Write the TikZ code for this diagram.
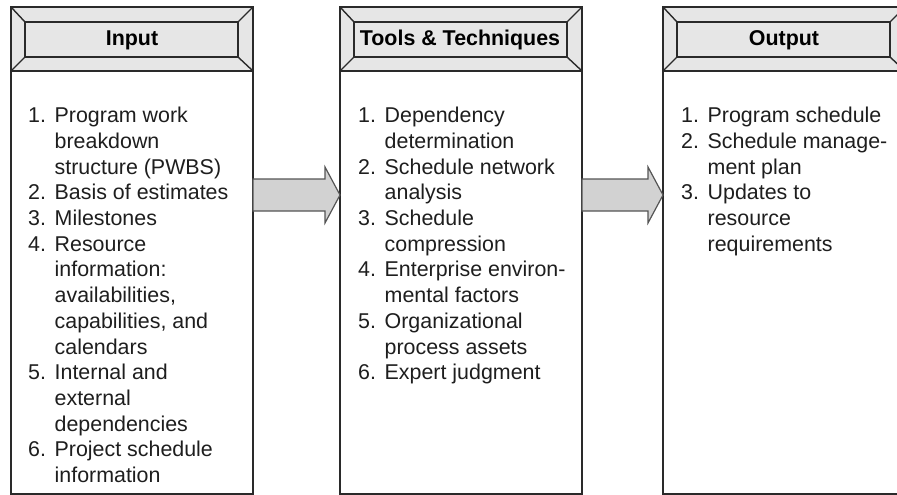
\documentclass[tikz,border=0pt]{standalone}
\usepackage{fontspec}
\setmainfont{Liberation Sans}
\usetikzlibrary{calc}
\definecolor{hdrfill}{HTML}{E6E6E6}
\definecolor{arrfill}{HTML}{D2D2D2}
\definecolor{lnclr}{HTML}{2A2A2A}
\definecolor{arrln}{HTML}{555555}
\definecolor{txtclr}{HTML}{1E1E1E}
\newcommand\itm[2]{\makebox[26.5pt][l]{#1}#2}
\newcommand\cnt[1]{\hspace*{26.5pt}#1}
\begin{document}
\begin{tikzpicture}[x=1pt,y=-1pt,
  colbox/.style={draw=lnclr, line width=2.2pt, fill=white, minimum width=242pt,
    minimum height=487pt, inner sep=0pt, outer sep=0pt},
  hdr/.style={draw=lnclr, line width=1.4pt, fill=hdrfill, line join=miter},
  hdrtitle/.style={font=\bfseries\fontsize{21.4}{25}\selectfont, text=black, inner sep=0pt},
  itemlist/.style={font=\fontsize{21.4}{25.7}\selectfont, text=txtclr, align=left,
    inner sep=0pt, anchor=north west},
  blkarrow/.style={draw=arrln, line width=1.2pt, fill=arrfill, line join=miter}]
\useasboundingbox (0,0) rectangle (897,495);
\clip (0,0) rectangle (897,495);

\node[colbox] (in) at (132,250.5) {};
\node[colbox] (tools) at (461,250.5) {};
\node[colbox] (out) at (784,250.5) {};

\foreach \n in {in,tools,out}{
  \filldraw[hdr] (\n.north west) rectangle ($(\n.north east)+(0,64)$);
  \draw[hdr] ($(\n.north west)+(14,15)$) rectangle ($(\n.north east)+(-15,50)$);
  \draw[hdr] (\n.north west) -- ($(\n.north west)+(14,15)$);
  \draw[hdr] (\n.north east) -- ($(\n.north east)+(-15,15)$);
  \draw[hdr] ($(\n.north west)+(0,64)$) -- ($(\n.north west)+(14,50)$);
  \draw[hdr] ($(\n.north east)+(0,64)$) -- ($(\n.north east)+(-15,50)$);
  \draw[lnclr, line width=2.2pt] (\n.north west) rectangle ($(\n.north east)+(0,64)$);
}

\node[hdrtitle] (inT) at ($(in.north)+(0,33)$) {Input};
\node[hdrtitle] (toolsT) at ($(tools.north)+(-1,33)$) {Tools \& Techniques};
\node[hdrtitle] (outT) at ($(out.north)+(0,33)$) {Output};

\node[itemlist] (inL) at ($(in.north west)+(17,100)$) {%
\itm{1.}{Program work}\\
\cnt{breakdown}\\
\cnt{structure (PWBS)}\\
\itm{2.}{Basis of estimates}\\
\itm{3.}{Milestones}\\
\itm{4.}{Resource}\\
\cnt{information:}\\
\cnt{availabilities,}\\
\cnt{capabilities, and}\\
\cnt{calendars}\\
\itm{5.}{Internal and}\\
\cnt{external}\\
\cnt{dependencies}\\
\itm{6.}{Project schedule}\\
\cnt{information}};

\node[itemlist] (toolsL) at ($(tools.north west)+(18,100)$) {%
\itm{1.}{Dependency}\\
\cnt{determination}\\
\itm{2.}{Schedule network}\\
\cnt{analysis}\\
\itm{3.}{Schedule}\\
\cnt{compression}\\
\itm{4.}{Enterprise environ-}\\
\cnt{mental factors}\\
\itm{5.}{Organizational}\\
\cnt{process assets}\\
\itm{6.}{Expert judgment}};

\node[itemlist] (outL) at ($(out.north west)+(18,100)$) {%
\itm{1.}{Program schedule}\\
\itm{2.}{Schedule manage-}\\
\cnt{ment plan}\\
\itm{3.}{Updates to}\\
\cnt{resource}\\
\cnt{requirements}};

\draw[blkarrow] ($(in.north east)+(0,172)$) -- ++(72,0) -- ++(0,-12)
  -- ($(tools.north west)+(0,188)$) -- ($(in.north east)+(72,216)$) -- ++(0,-12)
  -- ($(in.north east)+(0,204)$) -- cycle;
\draw[blkarrow] ($(tools.north east)+(0,172)$) -- ++(66,0) -- ++(0,-12)
  -- ($(out.north west)+(0,188)$) -- ($(tools.north east)+(66,216)$) -- ++(0,-12)
  -- ($(tools.north east)+(0,204)$) -- cycle;
\end{tikzpicture}
\end{document}
